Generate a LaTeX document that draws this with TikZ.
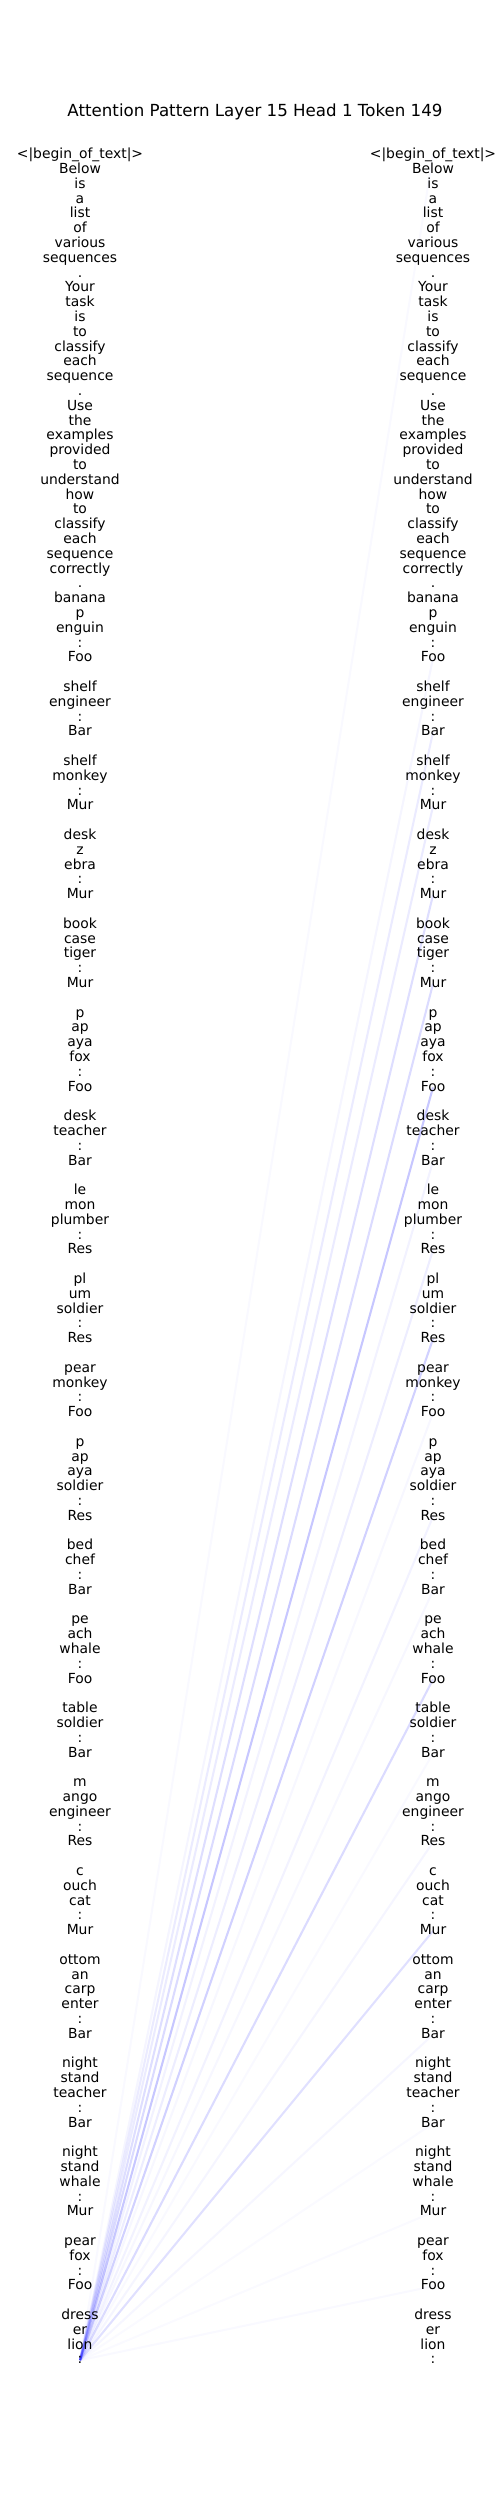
\documentclass[tikz,border=0pt]{standalone}
\usepackage{fontspec}
\setmainfont{DejaVu Sans}
\pgfdeclarelayer{bg}
\pgfsetlayers{bg,main}
\begin{document}
\begin{tikzpicture}[x=0.72pt,y=-0.72pt,
  tok/.style={font=\fontsize{10pt}{12pt}\selectfont, inner sep=0pt, text height=7.6pt, text depth=2.4pt, anchor=center},
  att/.style={draw=blue, line width=1.5pt, draw opacity=#1}]
\useasboundingbox (0,0) rectangle (500,2500);
\node[font=\fontsize{12pt}{14pt}\selectfont] (title) at (255,112) {Attention Pattern Layer 15 Head 1 Token 149};
\foreach \t [count=\i from 0] in {{<|begin\_of\_text|>},Below,is,a,list,of,various,sequences,.,Your,task,is,to,classify,each,sequence,.,Use,the,examples,provided,to,understand,how,to,classify,each,sequence,correctly,.,banana,p,enguin,:,Foo,{},shelf,engineer,:,Bar,{},shelf,monkey,:,Mur,{},desk,z,ebra,:,Mur,{},book,case,tiger,:,Mur,{},p,ap,aya,fox,:,Foo,{},desk,teacher,:,Bar,{},le,mon,plumber,:,Res,{},pl,um,soldier,:,Res,{},pear,monkey,:,Foo,{},p,ap,aya,soldier,:,Res,{},bed,chef,:,Bar,{},pe,ach,whale,:,Foo,{},table,soldier,:,Bar,{},m,ango,engineer,:,Res,{},c,ouch,cat,:,Mur,{},ottom,an,carp,enter,:,Bar,{},night,stand,teacher,:,Bar,{},night,stand,whale,:,Mur,{},pear,fox,:,Foo,{},dress,er,lion,:} {
  \node[tok] (L\i) at (80,155+14.8*\i) {\t};
  \node[tok] (R\i) at (433,155+14.8*\i) {\t};
}
\begin{pgfonlayer}{bg}
\foreach \j/\a in {0/0.025,34/0.04,39/0.08,44/0.08,50/0.13,56/0.14,63/0.22,68/0.05,74/0.07,80/0.18,85/0.03,92/0.05,97/0.03,103/0.14,108/0.025,114/0.04,120/0.12,127/0.035,133/0.02,139/0.02,144/0.025}
  \draw[att=\a] (L149.center) -- (R\j.center);
\end{pgfonlayer}
\end{tikzpicture}
\end{document}
